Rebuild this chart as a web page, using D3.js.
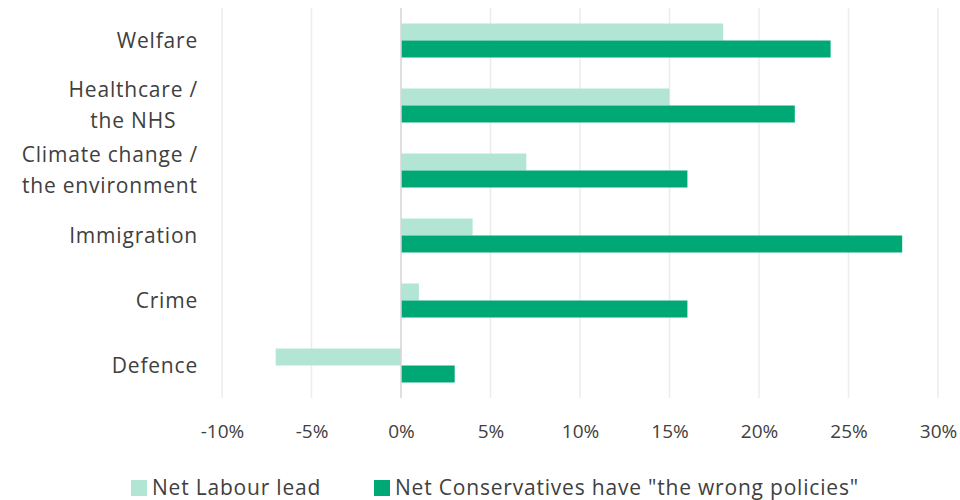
<!DOCTYPE html>
<html>
<head>
<meta charset="utf-8">
<script src="https://cdn.jsdelivr.net/npm/d3@7"></script>
<style>
  html, body { margin: 0; padding: 0; background: #fff; }
  svg text { font-family: "Open Sans", "Noto Sans", sans-serif; fill: #404040; }
  .lbl { letter-spacing: 0.8px; }
</style>
</head>
<body>
<svg id="chart" width="960" height="500"></svg>
<script>
// Issue categories (multi-line labels split on "\n")
const categories = ["Welfare", "Healthcare /\nthe NHS", "Climate change /\nthe environment", "Immigration", "Crime", "Defence"];
// Net Labour lead (%)
const labourLead = [18, 15, 7, 4, 1, -7];
// Net Conservatives have "the wrong policies" (%)
const conWrong = [24, 22, 16, 28, 16, 3];
const xTicks = [-10, -5, 0, 5, 10, 15, 20, 25, 30];
const seriesNames = ["Net Labour lead", "Net Conservatives have \"the wrong policies\""];
const colors = ["#b3e5d5", "#00a876"];

const svg = d3.select("#chart");
const x = d3.scaleLinear().domain([-10, 30]).range([222, 938]);
const y = d3.scaleBand().domain(categories).range([8, 398]).paddingInner(0.477).paddingOuter(0.2385);
const sub = d3.scaleBand().domain([0, 1]).range([0, y.bandwidth()]);

// vertical gridlines
svg.append("g").selectAll("line").data(xTicks.filter(d => d !== 0)).join("line")
  .attr("x1", d => x(d)).attr("x2", d => x(d))
  .attr("y1", 8).attr("y2", 398)
  .attr("stroke", "#ececec").attr("stroke-width", 1.5);

// bars
const series = [labourLead, conWrong];
series.forEach((vals, si) => {
  svg.append("g").selectAll("rect").data(categories).join("rect")
    .attr("x", (d, i) => x(Math.min(0, vals[i])))
    .attr("width", (d, i) => Math.abs(x(vals[i]) - x(0)))
    .attr("y", d => y(d) + sub(si))
    .attr("height", sub.bandwidth())
    .attr("fill", colors[si]);
});

// zero line
svg.append("line")
  .attr("x1", x(0)).attr("x2", x(0)).attr("y1", 8).attr("y2", 398)
  .attr("stroke", "#d4d4d4").attr("stroke-width", 1.5);

// x axis labels
const xAxis = d3.axisBottom(x).tickValues(xTicks).tickFormat(d => d + "%").tickSize(0).tickPadding(0);
const gx = svg.append("g").attr("transform", "translate(0,424)").call(xAxis);
gx.select(".domain").remove();
gx.selectAll("text").attr("font-size", 19).attr("dy", "0.71em")
  .style("font-family", "\"Open Sans\", sans-serif").attr("fill", "#404040");

// category labels (lines centred, block right-aligned)
const lineH = 31;
categories.forEach(c => {
  const lines = c.split("\n");
  const cy = y(c) + y.bandwidth() / 2;
  const g = svg.append("g");
  const t = g.append("text").attr("class", "lbl").attr("font-size", 21).attr("text-anchor", "middle");
  lines.forEach((ln, i) => {
    t.append("tspan").attr("x", 0)
      .attr("y", cy + (i - (lines.length - 1) / 2) * lineH)
      .attr("dy", "0.35em").text(ln);
  });
  const w = t.node().getBBox().width;
  g.attr("transform", `translate(${198 - w / 2},0)`);
});

// legend
const legendX = [131, 374];
seriesNames.forEach((name, i) => {
  svg.append("rect").attr("x", legendX[i]).attr("y", 480).attr("width", 16).attr("height", 16).attr("fill", colors[i]);
  svg.append("text").attr("class", "lbl").attr("x", legendX[i] + 21).attr("y", 488).attr("dy", "0.35em")
    .attr("font-size", 21).text(name);
});
</script>
</body>
</html>
